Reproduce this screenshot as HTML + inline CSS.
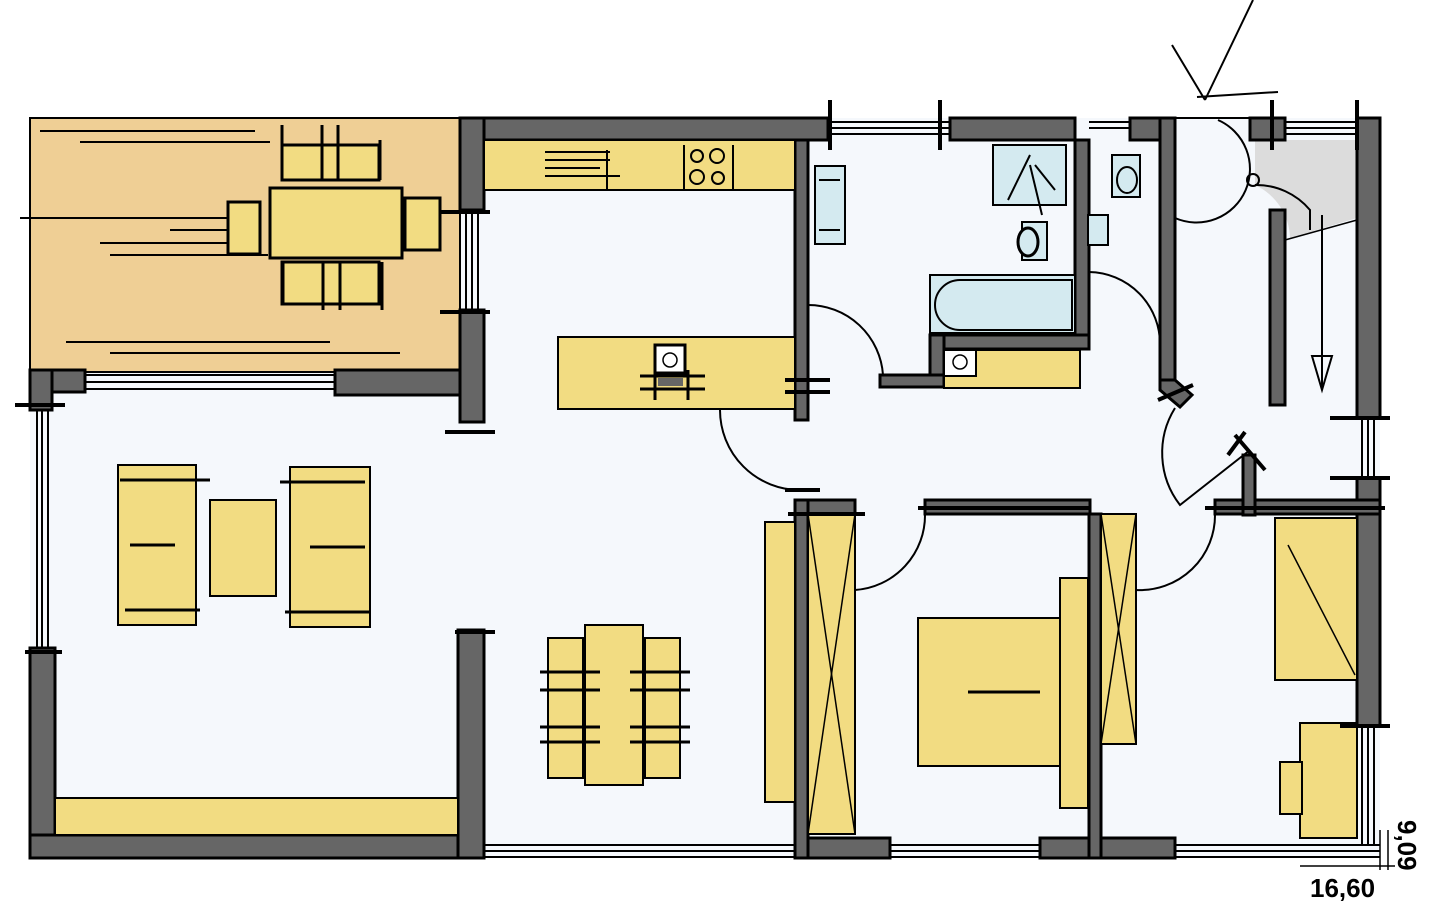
<!DOCTYPE html>
<html><head><meta charset="utf-8"><style>
html,body{margin:0;padding:0;background:#fff;width:1440px;height:904px;overflow:hidden}
svg{display:block}
</style></head><body>
<svg width="1440" height="904" viewBox="0 0 1440 904" xmlns="http://www.w3.org/2000/svg">
<path d="M30 372 L460 372 L460 118 L1380 118 L1380 858 L30 858 Z" fill="#f5f8fc"/>
<rect x="30" y="118" width="430" height="254" fill="#efcf95" stroke="#000" stroke-width="2"/>
<g stroke="#000" stroke-width="2">
<line x1="40" y1="131" x2="255" y2="131"/><line x1="80" y1="142" x2="270" y2="142"/>
<line x1="20" y1="218" x2="228" y2="218"/><line x1="170" y1="230" x2="230" y2="230"/>
<line x1="100" y1="243" x2="230" y2="243"/><line x1="110" y1="255" x2="268" y2="255"/>
<line x1="66" y1="342" x2="330" y2="342"/><line x1="110" y1="353" x2="400" y2="353"/>
</g>
<g fill="#f2dc82" stroke="#000" stroke-width="3">
<rect x="270" y="188" width="132" height="70"/>
<rect x="282" y="145" width="97" height="35"/><rect x="282" y="262" width="97" height="42"/>
<rect x="228" y="202" width="32" height="52"/><rect x="405" y="198" width="35" height="52"/>
</g>
<g stroke="#000" stroke-width="3">
<line x1="282" y1="125" x2="282" y2="180"/><line x1="322" y1="125" x2="322" y2="180"/><line x1="338" y1="125" x2="338" y2="180"/><line x1="380" y1="140" x2="380" y2="180"/>
<line x1="283" y1="262" x2="283" y2="305"/><line x1="323" y1="262" x2="323" y2="310"/><line x1="340" y1="262" x2="340" y2="310"/><line x1="382" y1="262" x2="382" y2="310"/>
</g>
<path d="M1255 140 L1357 140 L1357 218 L1290 238 A60 60 0 0 0 1255 185 Z" fill="#dcdcdc"/>
<line x1="1285" y1="240" x2="1357" y2="220" stroke="#000" stroke-width="1.5"/>
<g fill="#666" stroke="#000" stroke-width="3">
<rect x="460" y="118" width="368" height="22"/>
<rect x="460" y="118" width="24" height="92"/>
<rect x="460" y="310" width="24" height="112"/>
<rect x="335" y="370" width="125" height="25"/>
<rect x="30" y="370" width="55" height="22"/>
<rect x="30" y="370" width="22" height="40"/>
<rect x="30" y="648" width="25" height="210"/>
<rect x="30" y="835" width="454" height="23"/>
<rect x="458" y="630" width="26" height="228"/>
<rect x="950" y="118" width="125" height="22"/>
<rect x="1130" y="118" width="30" height="22"/>
<rect x="1250" y="118" width="35" height="22"/>
<rect x="1357" y="118" width="23" height="300"/>
<rect x="1357" y="478" width="23" height="248"/>
<rect x="795" y="838" width="95" height="20"/>
<rect x="1040" y="838" width="135" height="20"/>
<rect x="795" y="140" width="13" height="280"/>
<rect x="1075" y="140" width="14" height="205"/>
<rect x="930" y="335" width="159" height="14"/>
<rect x="930" y="335" width="14" height="50"/>
<rect x="880" y="375" width="64" height="12"/>
<rect x="1160" y="118" width="15" height="262"/>
<rect x="1270" y="210" width="15" height="195"/>
<rect x="795" y="500" width="60" height="14"/>
<rect x="925" y="500" width="165" height="14"/>
<rect x="1215" y="500" width="165" height="14"/>
<rect x="795" y="500" width="13" height="358"/>
<rect x="1089" y="514" width="12" height="344"/>
<rect x="1243" y="455" width="12" height="60"/>
</g>
<polygon points="1160,380 1175,380 1192,395 1180,407 1160,390" fill="#666" stroke="#000" stroke-width="3"/>
<g stroke="#000" stroke-width="2" fill="none">
<line x1="85" y1="375" x2="335" y2="375"/><line x1="85" y1="382" x2="335" y2="382"/><line x1="85" y1="389" x2="335" y2="389"/>
<line x1="37" y1="410" x2="37" y2="648"/><line x1="42" y1="410" x2="42" y2="648"/><line x1="48" y1="410" x2="48" y2="648"/>
<line x1="466" y1="210" x2="466" y2="310"/><line x1="472" y1="210" x2="472" y2="310"/><line x1="478" y1="210" x2="478" y2="310"/>
<line x1="484" y1="845" x2="795" y2="845"/><line x1="484" y1="851" x2="795" y2="851"/><line x1="484" y1="857" x2="795" y2="857"/>
<line x1="890" y1="845" x2="1040" y2="845"/><line x1="890" y1="851" x2="1040" y2="851"/><line x1="890" y1="857" x2="1040" y2="857"/>
<line x1="1175" y1="845" x2="1380" y2="845"/><line x1="1175" y1="851" x2="1380" y2="851"/><line x1="1175" y1="857" x2="1380" y2="857"/>
<line x1="828" y1="122" x2="950" y2="122"/><line x1="828" y1="128" x2="950" y2="128"/><line x1="828" y1="134" x2="950" y2="134"/>
<line x1="1285" y1="122" x2="1357" y2="122"/><line x1="1285" y1="128" x2="1357" y2="128"/><line x1="1285" y1="134" x2="1357" y2="134"/>
<line x1="1089" y1="122" x2="1130" y2="122"/><line x1="1089" y1="128" x2="1130" y2="128"/>
<line x1="1362" y1="418" x2="1362" y2="478"/><line x1="1368" y1="418" x2="1368" y2="478"/><line x1="1374" y1="418" x2="1374" y2="478"/>
<line x1="1362" y1="726" x2="1362" y2="845"/><line x1="1368" y1="726" x2="1368" y2="845"/><line x1="1374" y1="726" x2="1374" y2="845"/>
<line x1="1175" y1="118" x2="1250" y2="118"/>
</g>
<g fill="#f2dc82" stroke="#000" stroke-width="2">
<rect x="484" y="140" width="311" height="50"/>
<rect x="558" y="337" width="237" height="72"/>
<rect x="55" y="798" width="403" height="37"/>
<rect x="118" y="465" width="78" height="160"/>
<rect x="210" y="500" width="66" height="96"/>
<rect x="290" y="467" width="80" height="160"/>
<rect x="585" y="625" width="58" height="160"/>
<rect x="548" y="638" width="35" height="140"/>
<rect x="645" y="638" width="35" height="140"/>
<rect x="765" y="522" width="30" height="280"/>
<rect x="808" y="514" width="47" height="320"/>
<rect x="918" y="618" width="170" height="148"/>
<rect x="1060" y="578" width="28" height="230"/>
<rect x="1101" y="514" width="35" height="230"/>
<rect x="1275" y="518" width="82" height="162"/>
<rect x="1300" y="723" width="57" height="115"/>
<rect x="1280" y="762" width="22" height="52"/>
<rect x="944" y="350" width="136" height="38"/>
</g>
<rect x="944" y="350" width="32" height="26" fill="#fff" stroke="#000" stroke-width="2"/>
<circle cx="960" cy="362" r="7" fill="none" stroke="#000" stroke-width="1.5"/>
<g stroke="#000" stroke-width="1.5">
<line x1="808" y1="514" x2="855" y2="834"/><line x1="855" y1="514" x2="808" y2="834"/>
<line x1="1101" y1="514" x2="1136" y2="744"/><line x1="1136" y1="514" x2="1101" y2="744"/>
<line x1="1288" y1="545" x2="1355" y2="675"/>
</g>
<g stroke="#000" stroke-width="3">
<line x1="968" y1="692" x2="1040" y2="692"/>
<line x1="130" y1="545" x2="175" y2="545"/><line x1="310" y1="547" x2="365" y2="547"/>
<line x1="120" y1="480" x2="210" y2="480"/><line x1="125" y1="610" x2="200" y2="610"/>
<line x1="280" y1="482" x2="365" y2="482"/><line x1="285" y1="612" x2="370" y2="612"/>
<line x1="540" y1="672" x2="600" y2="672"/><line x1="540" y1="690" x2="600" y2="690"/><line x1="540" y1="727" x2="600" y2="727"/><line x1="540" y1="742" x2="600" y2="742"/>
<line x1="630" y1="672" x2="690" y2="672"/><line x1="630" y1="690" x2="690" y2="690"/><line x1="630" y1="727" x2="690" y2="727"/><line x1="630" y1="742" x2="690" y2="742"/>
</g>
<rect x="655" y="345" width="30" height="28" fill="#fff" stroke="#000" stroke-width="3"/>
<circle cx="670" cy="360" r="7" fill="none" stroke="#000" stroke-width="1.5"/>
<rect x="658" y="378" width="25" height="8" fill="#666"/>
<g stroke="#000" stroke-width="3"><line x1="640" y1="376" x2="705" y2="376"/><line x1="640" y1="389" x2="705" y2="389"/><line x1="655" y1="370" x2="655" y2="400"/><line x1="688" y1="370" x2="688" y2="400"/></g>
<g stroke="#000" stroke-width="2" fill="none">
<line x1="545" y1="152" x2="610" y2="152"/><line x1="545" y1="160" x2="610" y2="160"/><line x1="545" y1="168" x2="600" y2="168"/><line x1="545" y1="176" x2="620" y2="176"/>
<line x1="607" y1="150" x2="607" y2="190"/>
<line x1="684" y1="145" x2="684" y2="190"/><line x1="733" y1="145" x2="733" y2="190"/>
<circle cx="697" cy="156" r="6"/><circle cx="717" cy="156" r="7"/><circle cx="697" cy="177" r="7"/><circle cx="718" cy="178" r="6"/>
</g>
<g fill="#d4eaf0" stroke="#000" stroke-width="2">
<rect x="815" y="166" width="30" height="78"/>
<rect x="993" y="145" width="73" height="60"/>
<rect x="930" y="275" width="145" height="58"/>
<rect x="1022" y="222" width="25" height="38"/>
<rect x="1112" y="155" width="28" height="42"/>
<rect x="1088" y="215" width="20" height="30"/>
</g>
<path d="M960 280 L1072 280 L1072 330 L960 330 A25 25 0 0 1 960 280 Z" fill="#d4eaf0" stroke="#000" stroke-width="2"/>
<ellipse cx="1028" cy="242" rx="10" ry="14" fill="#d4eaf0" stroke="#000" stroke-width="3"/>
<ellipse cx="1127" cy="180" rx="10" ry="13" fill="#d4eaf0" stroke="#000" stroke-width="2"/>
<g stroke="#000" stroke-width="2">
<line x1="1030" y1="155" x2="1008" y2="200"/><line x1="1035" y1="165" x2="1055" y2="190"/><line x1="1030" y1="165" x2="1042" y2="215"/>
<line x1="819" y1="180" x2="840" y2="180"/><line x1="819" y1="230" x2="840" y2="230"/>
</g>
<g stroke="#000" stroke-width="2" fill="none">
<path d="M808 305 A75 75 0 0 1 883 375"/>
<path d="M1089 272 A72 72 0 0 1 1160 345"/>
<path d="M1175 218 A50 50 0 0 0 1218 120"/>
<path d="M720 410 A80 80 0 0 0 800 490"/>
<path d="M855 590 A75 75 0 0 0 925 514"/>
<path d="M1136 590 A75 75 0 0 0 1215 514"/>
<path d="M1175 408 A85 85 0 0 0 1180 505 L1250 450"/>
<path d="M1255 185 A70 70 0 0 1 1310 210 L1310 230"/>
<line x1="1322" y1="215" x2="1322" y2="390"/>
<polygon points="1312,356 1332,356 1322,390"/>
</g>
<circle cx="1253" cy="180" r="6" fill="none" stroke="#000" stroke-width="2"/>
<g stroke="#000" stroke-width="2">
<line x1="1253" y1="0" x2="1205" y2="100"/><line x1="1172" y1="45" x2="1205" y2="100"/><line x1="1197" y1="97" x2="1278" y2="92"/>
</g>
<g stroke="#000" stroke-width="4">
<line x1="15" y1="405" x2="65" y2="405"/><line x1="25" y1="652" x2="62" y2="652"/>
<line x1="445" y1="432" x2="495" y2="432"/><line x1="455" y1="632" x2="495" y2="632"/>
<line x1="440" y1="212" x2="490" y2="212"/><line x1="440" y1="312" x2="490" y2="312"/>
<line x1="785" y1="380" x2="830" y2="380"/><line x1="785" y1="392" x2="830" y2="392"/>
<line x1="785" y1="490" x2="820" y2="490"/><line x1="1205" y1="508" x2="1385" y2="508"/>
<line x1="918" y1="508" x2="1090" y2="508"/><line x1="788" y1="514" x2="865" y2="514"/>
<line x1="1330" y1="478" x2="1390" y2="478"/><line x1="1330" y1="418" x2="1390" y2="418"/>
<line x1="1340" y1="726" x2="1390" y2="726"/>
<line x1="1235" y1="435" x2="1265" y2="470"/><line x1="1245" y1="432" x2="1228" y2="455"/>
<line x1="1158" y1="400" x2="1193" y2="385"/>
<line x1="1272" y1="100" x2="1272" y2="150"/><line x1="1357" y1="100" x2="1357" y2="150"/>
<line x1="940" y1="100" x2="940" y2="150"/><line x1="830" y1="100" x2="830" y2="150"/>
</g>
<g stroke="#000" stroke-width="1.5">
<line x1="1380" y1="830" x2="1380" y2="870"/><line x1="1388" y1="830" x2="1388" y2="870"/><line x1="1300" y1="866" x2="1395" y2="866"/>
</g>
<text x="1310" y="897" font-family="Liberation Sans, sans-serif" font-weight="bold" font-size="26" fill="#000">16,60</text>
<text transform="translate(1398,820) rotate(90)" font-family="Liberation Sans, sans-serif" font-weight="bold" font-size="26" fill="#000">9,09</text>
</svg>
</body></html>
